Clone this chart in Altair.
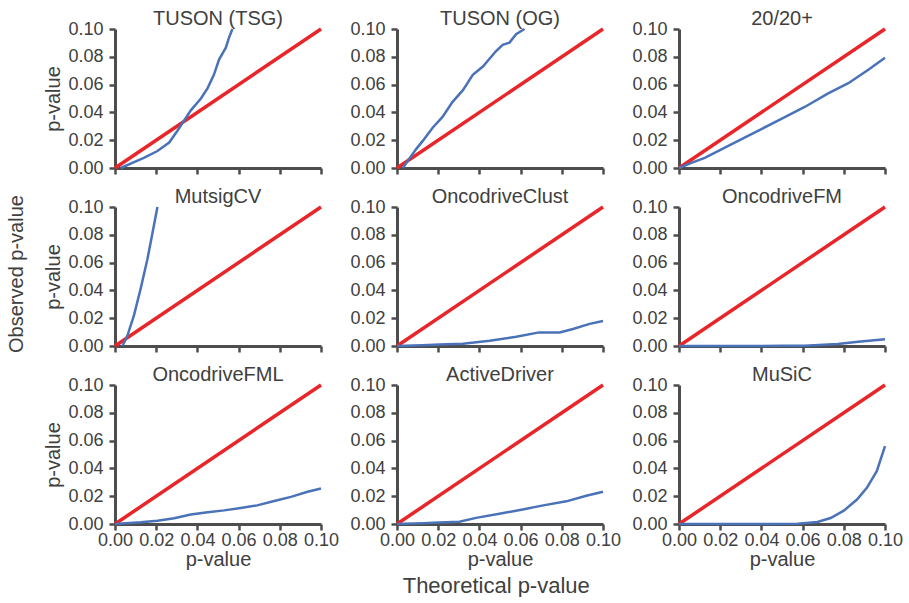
import altair as alt
import pandas as pd

FONT = "Liberation Sans"
BLUE = "#4a72b8"
RED = "#e8262a"
AX = "#4d4d4d"
TXT = "#404040"

titles = ["TUSON (TSG)", "TUSON (OG)", "20/20+", "MutsigCV", "OncodriveClust",
          "OncodriveFM", "OncodriveFML", "ActiveDriver", "MuSiC"]

tick_values = [0.0, 0.02, 0.04, 0.06, 0.08, 0.10]

diag_x = [0.0, 0.10]
diag_y = [0.0, 0.10]

tsg_x = [0.0028, 0.0084, 0.014, 0.0206, 0.0263, 0.0303, 0.0335, 0.0368, 0.0417, 0.0449, 0.048, 0.0505, 0.0538, 0.0554, 0.057]
tsg_y = [0.0, 0.0037, 0.0073, 0.0122, 0.0183, 0.0268, 0.034, 0.0415, 0.05, 0.0573, 0.067, 0.078, 0.0866, 0.094, 0.100]

og_x = [0.0028, 0.0092, 0.0125, 0.0173, 0.022, 0.027, 0.032, 0.0368, 0.0417, 0.048, 0.0513, 0.0546, 0.0578, 0.0619]
og_y = [0.0, 0.0134, 0.0195, 0.029, 0.0366, 0.0476, 0.056, 0.067, 0.073, 0.084, 0.0886, 0.0902, 0.0963, 0.100]

t2020_x = [0.0, 0.006, 0.0125, 0.0206, 0.0287, 0.04, 0.0497, 0.061, 0.0724, 0.0822, 0.0919, 0.100]
t2020_y = [0.0, 0.0037, 0.0073, 0.0134, 0.0195, 0.028, 0.0354, 0.0439, 0.0537, 0.061, 0.0707, 0.0793]

mutsig_x = [0.0036, 0.006, 0.0092, 0.0125, 0.0157, 0.0181, 0.0206]
mutsig_y = [0.0, 0.0073, 0.022, 0.0415, 0.0622, 0.0805, 0.100]

clust_x = [0.0, 0.0125, 0.0206, 0.032, 0.045, 0.0579, 0.069, 0.079, 0.0854, 0.0935, 0.100]
clust_y = [0.0, 0.0005, 0.001, 0.0017, 0.0037, 0.0066, 0.0098, 0.0098, 0.0122, 0.0159, 0.018]

fm_x = [0.0, 0.03, 0.05, 0.061, 0.077, 0.087, 0.100]
fm_y = [0.0, 0.0, 0.0001, 0.0002, 0.0015, 0.003, 0.0049]

fml_x = [0.0, 0.0125, 0.0206, 0.0287, 0.0368, 0.045, 0.053, 0.061, 0.069, 0.0773, 0.0854, 0.0935, 0.100]
fml_y = [0.0, 0.0012, 0.0024, 0.0041, 0.0068, 0.0085, 0.0098, 0.0115, 0.0134, 0.0166, 0.0195, 0.0232, 0.0256]

ad_x = [0.0, 0.0125, 0.0206, 0.0303, 0.0384, 0.0497, 0.061, 0.071, 0.0822, 0.0919, 0.100]
ad_y = [0.0, 0.0005, 0.001, 0.0017, 0.0044, 0.0073, 0.0105, 0.0134, 0.0163, 0.0203, 0.0232]

music_x = [0.0, 0.04, 0.0576, 0.0672, 0.0736, 0.080, 0.0864, 0.0912, 0.096, 0.100]
music_y = [0.0, 0.0, 0.0002, 0.0014, 0.0043, 0.0096, 0.0176, 0.026, 0.038, 0.056]

curves = [(tsg_x, tsg_y), (og_x, og_y), (t2020_x, t2020_y), (mutsig_x, mutsig_y),
          (clust_x, clust_y), (fm_x, fm_y), (fml_x, fml_y), (ad_x, ad_y), (music_x, music_y)]

W, H = 206, 139

panels = []
for i, (name, (cx, cy)) in enumerate(zip(titles, curves)):
    row, col = divmod(i, 3)
    bottom = row == 2
    left = col == 0
    xaxis = alt.Axis(values=tick_values, format=".2f", labels=bottom,
                     labelOverlap=False, labelFlush=False,
                     title="p-value" if bottom else None)
    yaxis = alt.Axis(values=tick_values, format=".2f", labelOverlap=False,
                     labelFlush=False,
                     title="p-value" if left else None)
    xs = alt.Scale(domain=[0, 0.1], nice=False, zero=False)
    ys = alt.Scale(domain=[0, 0.1], nice=False, zero=False)
    diag = pd.DataFrame({"x": diag_x, "y": diag_y})
    curve = pd.DataFrame({"x": cx, "y": cy, "o": list(range(len(cx)))})
    red = alt.Chart(diag).mark_line(color=RED, strokeWidth=3.5).encode(
        x=alt.X("x:Q", scale=xs, axis=xaxis),
        y=alt.Y("y:Q", scale=ys, axis=yaxis),
    )
    blue = alt.Chart(curve).mark_line(color=BLUE, strokeWidth=2.5).encode(
        x=alt.X("x:Q", scale=xs, axis=xaxis),
        y=alt.Y("y:Q", scale=ys, axis=yaxis),
        order="o:Q",
    )
    layer = alt.layer(red, blue).properties(
        width=W, height=H,
        title=alt.TitleParams(name, fontSize=20, font=FONT, fontWeight="normal",
                              color=TXT, offset=-9, anchor="middle"),
    )
    panels.append(layer)

grid = alt.concat(*panels, columns=3,
                  spacing=alt.RowColnumber(row=39, column=76),
                  bounds="flush",
                  title=alt.TitleParams("Theoretical p-value", orient="bottom",
                                        fontSize=22, font=FONT, fontWeight="normal",
                                        color=TXT, anchor="middle", offset=7, dx=23))

chart = alt.hconcat(grid, title=alt.TitleParams(
    "Observed p-value", orient="left", fontSize=20, font=FONT,
    fontWeight="normal", color=TXT, anchor="middle", offset=17, dx=29)
).configure_view(stroke=None).configure_axis(
    domainColor=AX, domainWidth=3, tickColor=AX, tickWidth=2.5, tickSize=6,
    labelColor=TXT, labelFontSize=18, labelFont=FONT,
    titleColor=TXT, titleFontSize=20, titleFont=FONT, titleFontWeight="normal",
    grid=False,
).configure_axisX(labelPadding=1, titlePadding=0).configure_axisY(
    labelPadding=6, titlePadding=4
).properties(padding={"left": 6, "top": 9, "right": 0, "bottom": 0})

chart.save("out.html", embed_options={"renderer": "svg", "actions": False})
